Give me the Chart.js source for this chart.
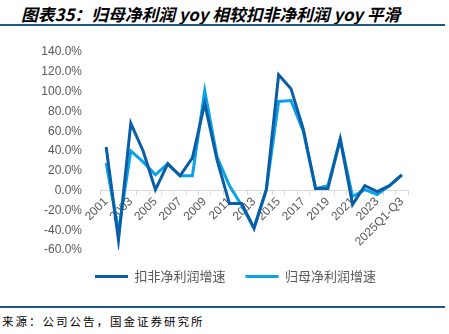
<!DOCTYPE html>
<html>
<head>
<meta charset="utf-8">
<script src="https://cdn.jsdelivr.net/npm/chart.js@4"></script>
<style>
  body { margin: 0; width: 449px; height: 334px; background: #fff; overflow: hidden; position: relative; font-family: "Noto Sans CJK SC", sans-serif; }
  #title { position: absolute; left: 21px; top: 2px; font-size: 16.8px; font-weight: bold; font-style: italic; color: #000; white-space: nowrap; }
  .rule { position: absolute; left: 0; width: 445px; height: 2px; background: #1f5a85; }
  #source { position: absolute; left: 2px; top: 313px; font-size: 11.5px; letter-spacing: 2px; color: #000; white-space: nowrap; }
  #wrap { position: absolute; left: 0; top: 30px; width: 449px; height: 263px; }
</style>
</head>
<body>
<div id="title">图表35：归母净利润 yoy 相较扣非净利润 yoy 平滑</div>
<div class="rule" style="top:24px"></div>
<div id="wrap"><canvas id="chart"></canvas></div>
<div class="rule" style="top:306px"></div>
<div id="source">来源：公司公告，国金证券研究所</div>
<script>
const years = ['2001', '2002', '2003', '2004', '2005', '2006', '2007', '2008', '2009', '2010',
    '2011', '2012', '2013', '2014', '2015', '2016', '2017', '2018', '2019', '2020',
    '2021', '2022', '2023', '2024', '2025Q1-Q3'];

// 扣非净利润增速 (%)
const kouFei = [44, -50, 68, 40, 1, 27, 15, 33, 88, 31, -13, -13, -38, 1, 117, 103, 62, 2, 2, 52, -14, 5, -1, 5, 16];
// 归母净利润增速 (%)
const guiMu = [28, -41, 40, 29, 16, 27, 15, 15, 101, 34, 5, -15, -38, 1, 90, 91, 60, 2, 5, 52, -6, 1, -4, 5, 16];

const darkBlue = '#0b5da6';
const lightBlue = '#0aa3e8';

const ctx = document.getElementById('chart').getContext('2d');
new Chart(ctx, {
    type: 'line',
    data: {
        labels: years,
        datasets: [
            { label: '扣非净利润增速', data: kouFei, borderColor: darkBlue, backgroundColor: darkBlue, borderWidth: 3, pointRadius: 0, tension: 0 },
            { label: '归母净利润增速', data: guiMu, borderColor: lightBlue, backgroundColor: lightBlue, borderWidth: 3, pointRadius: 0, tension: 0 }
        ]
    },
    options: {
        responsive: true,
        maintainAspectRatio: false,
        animation: false,
        layout: { padding: { left: 32, right: 10, top: 22, bottom: 0 } },
        plugins: {
            tooltip: { enabled: false },
            legend: {
                position: 'bottom',
                labels: {
                    usePointStyle: true,
                    pointStyle: 'line',
                    pointStyleWidth: 33,
                    color: '#595959',
                    font: { family: '"Noto Sans CJK SC", sans-serif', size: 13 },
                    padding: 20
                }
            }
        },
        scales: {
            x: {
                position: { y: 0 },
                offset: true,
                grid: { display: true, offset: true, drawOnChartArea: false, drawTicks: true, tickLength: 4, color: '#d9d9d9' },
                border: { display: true, color: '#d9d9d9', width: 1 },
                ticks: {
                    autoSkip: false,
                    maxRotation: 45,
                    minRotation: 45,
                    color: '#595959',
                    font: { family: '"Liberation Sans", Arial, sans-serif', size: 12 },
                    padding: 0,
                    callback: function (v, i) { return i % 2 === 0 ? years[i] : ''; }
                }
            },
            y: {
                min: -60,
                max: 140,
                afterFit: function (s) { s.width = 68; },
                grid: { display: false },
                border: { display: false },
                ticks: {
                    stepSize: 20,
                    color: '#595959',
                    font: { family: '"Liberation Sans", Arial, sans-serif', size: 12 },
                    padding: 10,
                    callback: function (v) { return v.toFixed(1) + '%'; }
                }
            },
            // empty right-hand spacer so the legend sits where it does in the original
            spacer: {
                position: 'right',
                afterFit: function (s) { s.width = 31; },
                grid: { display: false },
                border: { display: false },
                ticks: { display: false }
            }
        }
    }
});
</script>
</body>
</html>
